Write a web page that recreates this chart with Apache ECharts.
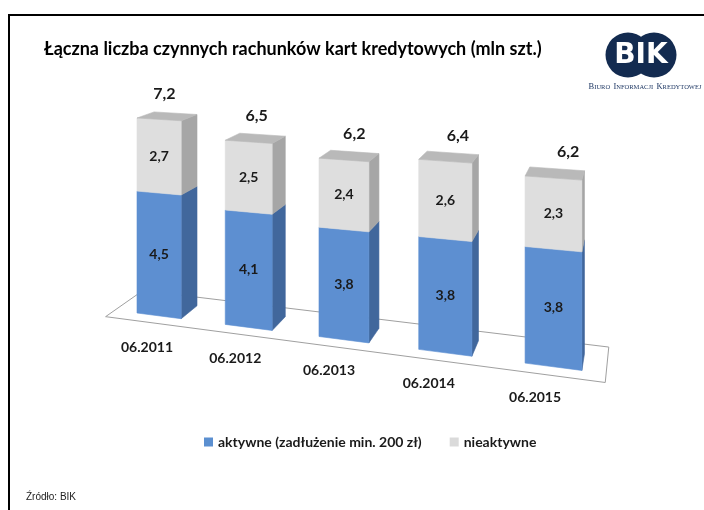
<!DOCTYPE html>
<html><head><meta charset="utf-8">
<script src="https://cdn.jsdelivr.net/npm/echarts@6/dist/echarts.min.js"></script>
<style>html,body{margin:0;padding:0;background:#fff}#c{width:704px;height:510px}</style>
</head><body><div id="c"></div>
<script>
// ---- data ----
const categories = ['06.2011', '06.2012', '06.2013', '06.2014', '06.2015'];
const aktywne = [4.5, 4.1, 3.8, 3.8, 3.8];
const nieaktywne = [2.7, 2.5, 2.4, 2.6, 2.3];
const totals = [7.2, 6.5, 6.2, 6.4, 6.2];
const seriesNames = ['aktywne (zadłużenie min. 200 zł)', 'nieaktywne'];
const titleText = 'Łączna liczba czynnych rachunków kart kredytowych (mln szt.)';
const sourceText = 'Źródło: BIK';

// ---- 3D perspective camera (two-point perspective) ----
const CAM = { cx: 352, hy: -65, F: 968, ox: -0.2221, oy: -0.3905, ex: [0.9557, -0.2943], ez: [0.2942, 0.9558] };
const STEP = 0.0994, BW = 0.0505, BD = 0.036, HU = 0.02798;
const FLOOR = { catFrom: -0.26, catTo: 4.72, sFront: -0.018, sBack: 0.058 };
const COLORS = {
  blueFront: '#5d8fd1', blueSide: '#41679c',
  grayFront: '#dedede', graySide: '#a6a6a6', grayTop: '#b9b9b9',
  legendBlue: '#5b8fd0', legendGray: '#dadada'
};
const FONT = 'Lato, "Open Sans", sans-serif';

function project(t, h, s) {
  const X = CAM.ox + CAM.ex[0] * t + CAM.ez[0] * s;
  const Z = 1 + CAM.ex[1] * t + CAM.ez[1] * s;
  const Y = CAM.oy + h;
  return [CAM.cx + CAM.F * X / Z, CAM.hy - CAM.F * Y / Z];
}
function fmt(v) { return v.toFixed(1).replace('.', ','); }
function poly(points, fill) {
  return { type: 'polygon', shape: { points: points }, style: { fill: fill, stroke: fill, lineWidth: 0.6 } };
}

function makeRender(isTop) {
  return function (params, api) {
    const idx = params.dataIndex;
    const i = api.value(0), lo = api.value(1), hi = api.value(2);
    const p0 = api.coord([i, 0]), pl = api.coord([i, lo]), ph = api.coord([i, hi]);
    const band = api.size([1, 0])[0], unit = api.size([0, 1])[1];
    const cs = params.coordSys;
    const cat = (p0[0] - cs.x) / band - 0.5;
    const vlo = (p0[1] - pl[1]) / unit, vhi = (p0[1] - ph[1]) / unit;
    const t0 = cat * STEP, t1 = t0 + BW, hl = vlo * HU, hh = vhi * HU;
    const front = [project(t0, hl, 0), project(t1, hl, 0), project(t1, hh, 0), project(t0, hh, 0)];
    const side = [project(t1, hl, 0), project(t1, hl, BD), project(t1, hh, BD), project(t1, hh, 0)];
    const children = [
      poly(side, isTop ? COLORS.graySide : COLORS.blueSide),
      poly(front, isTop ? COLORS.grayFront : COLORS.blueFront)
    ];
    if (isTop) {
      const top = [project(t0, hh, 0), project(t1, hh, 0), project(t1, hh, BD), project(t0, hh, BD)];
      children.push(poly(top, COLORS.grayTop));
    }
    const cx = (front[0][0] + front[1][0] + front[2][0] + front[3][0]) / 4;
    const cy = (front[0][1] + front[1][1] + front[2][1] + front[3][1]) / 4;
    children.push({ type: 'text', style: { text: fmt(vhi - vlo), x: cx, y: cy, align: 'center', verticalAlign: 'middle',
      font: 'bold 14px ' + FONT, fill: '#1a1a1a' } });
    if (isTop) {
      const tc = project(t0 + BW / 2, hh, BD / 2);
      children.push({ type: 'text', style: { text: fmt(totals[idx]), x: tc[0] + cat * 4 - 3, y: front[3][1] - 24,
        align: 'center', verticalAlign: 'middle', font: 'bold 16px ' + FONT, fill: '#1a1a1a' } });
    } else {
      const b = project(t0, 0, 0);
      children.push({ type: 'text', style: { text: categories[idx], x: b[0] + 10, y: b[1] + 34,
        align: 'center', verticalAlign: 'middle', font: 'bold 14px ' + FONT, fill: '#1a1a1a' } });
    }
    return { type: 'group', children: children };
  };
}

function floorRender(params, api) {
  const p0 = api.coord([0, 0]);
  const band = api.size([1, 0])[0];
  const cs = params.coordSys;
  const base = (p0[0] - cs.x) / band - 0.5;
  const ta = (base + FLOOR.catFrom) * STEP, tb = (base + FLOOR.catTo) * STEP;
  const pts = [project(ta, 0, FLOOR.sFront), project(tb, 0, FLOOR.sFront), project(tb, 0, FLOOR.sBack), project(ta, 0, FLOOR.sBack)];
  return { type: 'polygon', shape: { points: pts }, style: { fill: '#ffffff', stroke: '#a0a0a0', lineWidth: 1 } };
}

const chart = echarts.init(document.getElementById('c'), null, { renderer: 'canvas' });
chart.setOption({
  backgroundColor: '#ffffff',
  animation: false,
  title: { text: titleText, left: 39, top: 35, textStyle: { fontFamily: FONT, fontSize: 18, fontWeight: 'bold', color: '#000' } },
  legend: {
    data: seriesNames, left: 199, top: 430, itemWidth: 9, itemHeight: 9, itemGap: 28, icon: 'rect',
    textStyle: { fontFamily: FONT, fontSize: 14, fontWeight: 'bold', color: '#1a1a1a' }
  },
  grid: { left: 100, right: 100, top: 100, bottom: 100 },
  xAxis: { type: 'category', data: categories, show: false },
  yAxis: { type: 'value', min: 0, max: 8, show: false },
  series: [
    { type: 'custom', name: 'floor', renderItem: floorRender, data: [[0, 0]], z: 1, silent: true },
    { type: 'custom', name: seriesNames[0], renderItem: makeRender(false), itemStyle: { color: COLORS.legendBlue },
      encode: { x: 0, y: 2 }, data: categories.map((c, i) => [i, 0, aktywne[i]]), z: 2 },
    { type: 'custom', name: seriesNames[1], renderItem: makeRender(true), itemStyle: { color: COLORS.legendGray },
      encode: { x: 0, y: 2 }, data: categories.map((c, i) => [i, aktywne[i], aktywne[i] + nieaktywne[i]]), z: 3 }
  ],
  graphic: [
    { type: 'polyline', shape: { points: [[9, 510], [9, 15], [704, 15]] }, style: { stroke: '#000', lineWidth: 2, fill: null } },
    { type: 'group', children: [
      { type: 'circle', shape: { cx: 628, cy: 55, r: 22.5 }, style: { fill: '#132b50' } },
      { type: 'circle', shape: { cx: 654, cy: 55, r: 22.5 }, style: { fill: '#132b50' } },
      { type: 'text', style: { text: 'BIK', x: 641, y: 56, align: 'center', verticalAlign: 'middle',
        font: 'bold 28px "DejaVu Sans", "Liberation Sans", sans-serif', fill: '#ffffff' } },
      { type: 'text', style: { text: '{b|B}{s|IURO} {b|I}{s|NFORMACJI} {b|K}{s|REDYTOWEJ}', x: 645, y: 87,
        align: 'center', verticalAlign: 'middle',
        rich: { b: { fontSize: 8.5, fontFamily: '"Liberation Serif", serif', fill: '#1f3864' },
                s: { fontSize: 6.5, fontFamily: '"Liberation Serif", serif', fill: '#1f3864' } } } }
    ] },
    { type: 'text', style: { text: sourceText, x: 26, y: 497, verticalAlign: 'middle',
      font: '10px "Liberation Sans", Arial, sans-serif', fill: '#222' } }
  ]
});
</script></body></html>
